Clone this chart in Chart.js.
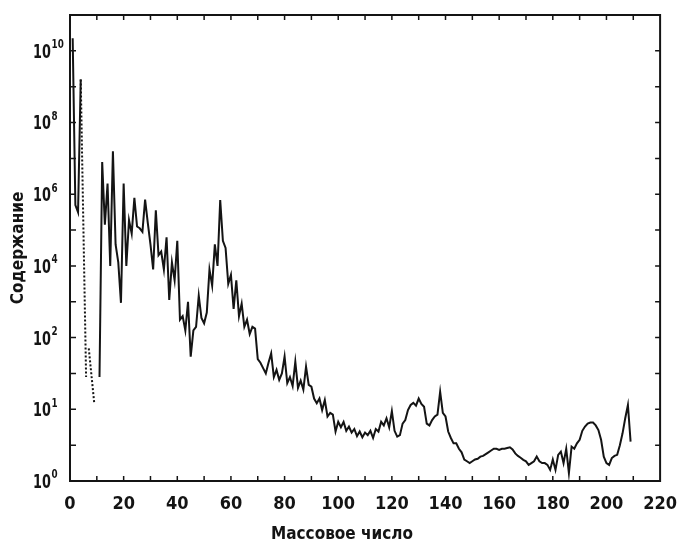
<!DOCTYPE html>
<html>
<head>
<meta charset="utf-8">
<script src="https://cdn.jsdelivr.net/npm/chart.js@4.4.0/dist/chart.umd.min.js"></script>
<style>
    html, body { margin: 0; padding: 0; background: #fff; }
    #wrap { width: 690px; height: 546px; position: relative; }
</style>
</head>
<body>
<div id="wrap"><canvas id="abundanceChart"></canvas></div>
<script>
// x = mass number, y = log10 of abundance as drawn on the plot
const hydrogenMass = [1, 2, 3, 4];
const hydrogenLog = [10.35, 5.7, 5.5, 9.2];

// Li / Be / B are drawn dotted
const lithiumMass = [4, 6];
const lithiumLog = [9.2, 0.9];
const berylliumMass = [7, 9];
const berylliumLog = [1.7, 0.2];

// solid curve, mass numbers 11 .. 209
const mainStartMass = 11;
const mainLog = [
    0.9, 6.9, 5.15, 6.3, 4.0, 7.2, 4.6, 4.1, 2.97, 6.3,
    4.0, 5.28, 4.9, 5.9, 5.1, 5.05, 4.95, 5.85, 5.2, 4.6,
    3.9, 5.55, 4.3, 4.4, 3.9, 4.8, 3.05, 4.1, 3.6, 4.7,
    2.5, 2.6, 2.2, 3.0, 1.47, 2.2, 2.3, 3.17, 2.55, 2.4,
    2.7, 3.9, 3.45, 4.6, 4.0, 5.84, 4.7, 4.5, 3.5, 3.75,
    2.8, 3.6, 2.6, 2.95, 2.3, 2.5, 2.1, 2.3, 2.25, 1.4,
    1.3, 1.15, 1.0, 1.3, 1.56, 0.9, 1.1, 0.82, 1.0, 1.47,
    0.73, 0.9, 0.65, 1.33, 0.6, 0.8, 0.55, 1.19, 0.68, 0.63,
    0.3, 0.17, 0.3, -0.02, 0.26, -0.2, -0.1, -0.15, -0.62, -0.35,
    -0.5, -0.35, -0.6, -0.48, -0.65, -0.55, -0.75, -0.62, -0.78, -0.65,
    -0.72, -0.6, -0.8, -0.55, -0.62, -0.35, -0.45, -0.25, -0.5, -0.05,
    -0.6, -0.76, -0.72, -0.4, -0.3, -0.02, 0.12, 0.18, 0.1, 0.3,
    0.15, 0.07, -0.4, -0.45, -0.3, -0.2, -0.15, 0.49, -0.1, -0.2,
    -0.62, -0.8, -0.95, -0.95, -1.1, -1.2, -1.4, -1.45, -1.5, -1.45,
    -1.4, -1.38, -1.32, -1.3, -1.25, -1.2, -1.15, -1.1, -1.1, -1.13,
    -1.1, -1.1, -1.08, -1.06, -1.12, -1.23, -1.3, -1.35, -1.41, -1.45,
    -1.55, -1.5, -1.45, -1.32, -1.45, -1.5, -1.5, -1.55, -1.69, -1.4,
    -1.69, -1.27, -1.18, -1.5, -1.1, -1.78, -1.04, -1.1, -0.95, -0.85,
    -0.6, -0.48, -0.4, -0.37, -0.37, -0.45, -0.58, -0.85, -1.32, -1.5,
    -1.55, -1.36, -1.3, -1.27, -1.0, -0.67, -0.25, 0.12, -0.9
];

// axis labels as printed on the original
const yTickExp = [10, 8, 6, 4, 2, 0, -2];
const yTickText = ['10', '8', '6', '4', '2', '1', '0'];
const xTitle = 'Массовое число';
const yTitle = 'Содержание';

const NARROW = "'Liberation Sans Narrow', 'DejaVu Sans Condensed', sans-serif";
const INK = '#141414';

function toPoints(xs, ys) {
    return xs.map((x, i) => ({ x: x, y: ys[i] }));
}

const mainPoints = mainLog.map((v, i) => ({ x: mainStartMass + i, y: v }));

// frame, inward ticks, y labels with superscripts, x title
const framePlugin = {
    id: 'frame',
    afterDraw(chart) {
        const ctx = chart.ctx;
        const { left, right, top, bottom } = chart.chartArea;
        const xs = chart.scales.x;
        const ys = chart.scales.y;
        ctx.save();
        ctx.strokeStyle = INK;
        ctx.lineWidth = 2;
        ctx.strokeRect(left, top, right - left, bottom - top);

        ctx.lineWidth = 1.5;
        ctx.beginPath();
        for (let v = 10; v < 220; v += 10) {
            const px = xs.getPixelForValue(v);
            ctx.moveTo(px, bottom); ctx.lineTo(px, bottom - 5);
            ctx.moveTo(px, top); ctx.lineTo(px, top + 5);
        }
        for (let v = -1; v <= 10; v++) {
            const py = ys.getPixelForValue(v);
            ctx.moveTo(left, py); ctx.lineTo(left + 6, py);
            ctx.moveTo(right, py); ctx.lineTo(right - 5, py);
        }
        ctx.stroke();

        // "10" with a raised exponent, squeezed to look like the narrow print
        ctx.fillStyle = INK;
        ctx.textBaseline = 'middle';
        ctx.textAlign = 'left';
        yTickExp.forEach((e, i) => {
            const py = ys.getPixelForValue(e) + 2;
            ctx.save();
            ctx.translate(33, py);
            ctx.scale(0.75, 1);
            ctx.font = 'bold 19px ' + NARROW;
            ctx.fillText('10', 0, 0);
            const w = ctx.measureText('10').width;
            ctx.font = 'bold 13px ' + NARROW;
            ctx.fillText(yTickText[i], w + 1, -8);
            ctx.restore();
        });

        ctx.textAlign = 'center';
        ctx.font = 'bold 17px ' + NARROW;
        ctx.fillText(xTitle, 342, 535);
        ctx.restore();
    }
};

new Chart(document.getElementById('abundanceChart').getContext('2d'), {
    type: 'line',
    data: {
        datasets: [
            {
                data: toPoints(hydrogenMass, hydrogenLog),
                borderColor: INK,
                borderWidth: 2,
                pointRadius: 0
            },
            {
                data: toPoints(lithiumMass, lithiumLog),
                borderColor: INK,
                borderWidth: 2,
                borderDash: [2, 2],
                pointRadius: 0
            },
            {
                data: toPoints(berylliumMass, berylliumLog),
                borderColor: INK,
                borderWidth: 2,
                borderDash: [2, 2],
                pointRadius: 0
            },
            {
                data: mainPoints,
                borderColor: INK,
                borderWidth: 2,
                pointRadius: 0
            }
        ]
    },
    options: {
        responsive: true,
        maintainAspectRatio: false,
        animation: false,
        layout: { padding: { left: 0, right: 18, top: 15, bottom: 0 } },
        plugins: {
            legend: { display: false },
            tooltip: { enabled: false }
        },
        scales: {
            x: {
                type: 'linear',
                min: 0,
                max: 220,
                ticks: {
                    stepSize: 10,
                    autoSkip: false,
                    maxRotation: 0,
                    padding: 13,
                    color: INK,
                    font: { family: NARROW, size: 18, weight: 'bold' },
                    callback: v => (v % 20 === 0 ? String(v) : '')
                },
                grid: { display: false, drawTicks: false },
                border: { display: false },
                afterFit: s => { s.height = 65; }
            },
            y: {
                type: 'linear',
                min: -2,
                max: 11,
                ticks: { display: false, stepSize: 1 },
                grid: { display: false, drawTicks: false },
                border: { display: false },
                title: {
                    display: true,
                    text: yTitle,
                    color: INK,
                    font: { family: NARROW, size: 17, weight: 'bold' },
                    padding: { top: 8, bottom: 0 }
                },
                afterFit: s => { s.width = 70; }
            }
        }
    },
    plugins: [framePlugin]
});
</script>
</body>
</html>
